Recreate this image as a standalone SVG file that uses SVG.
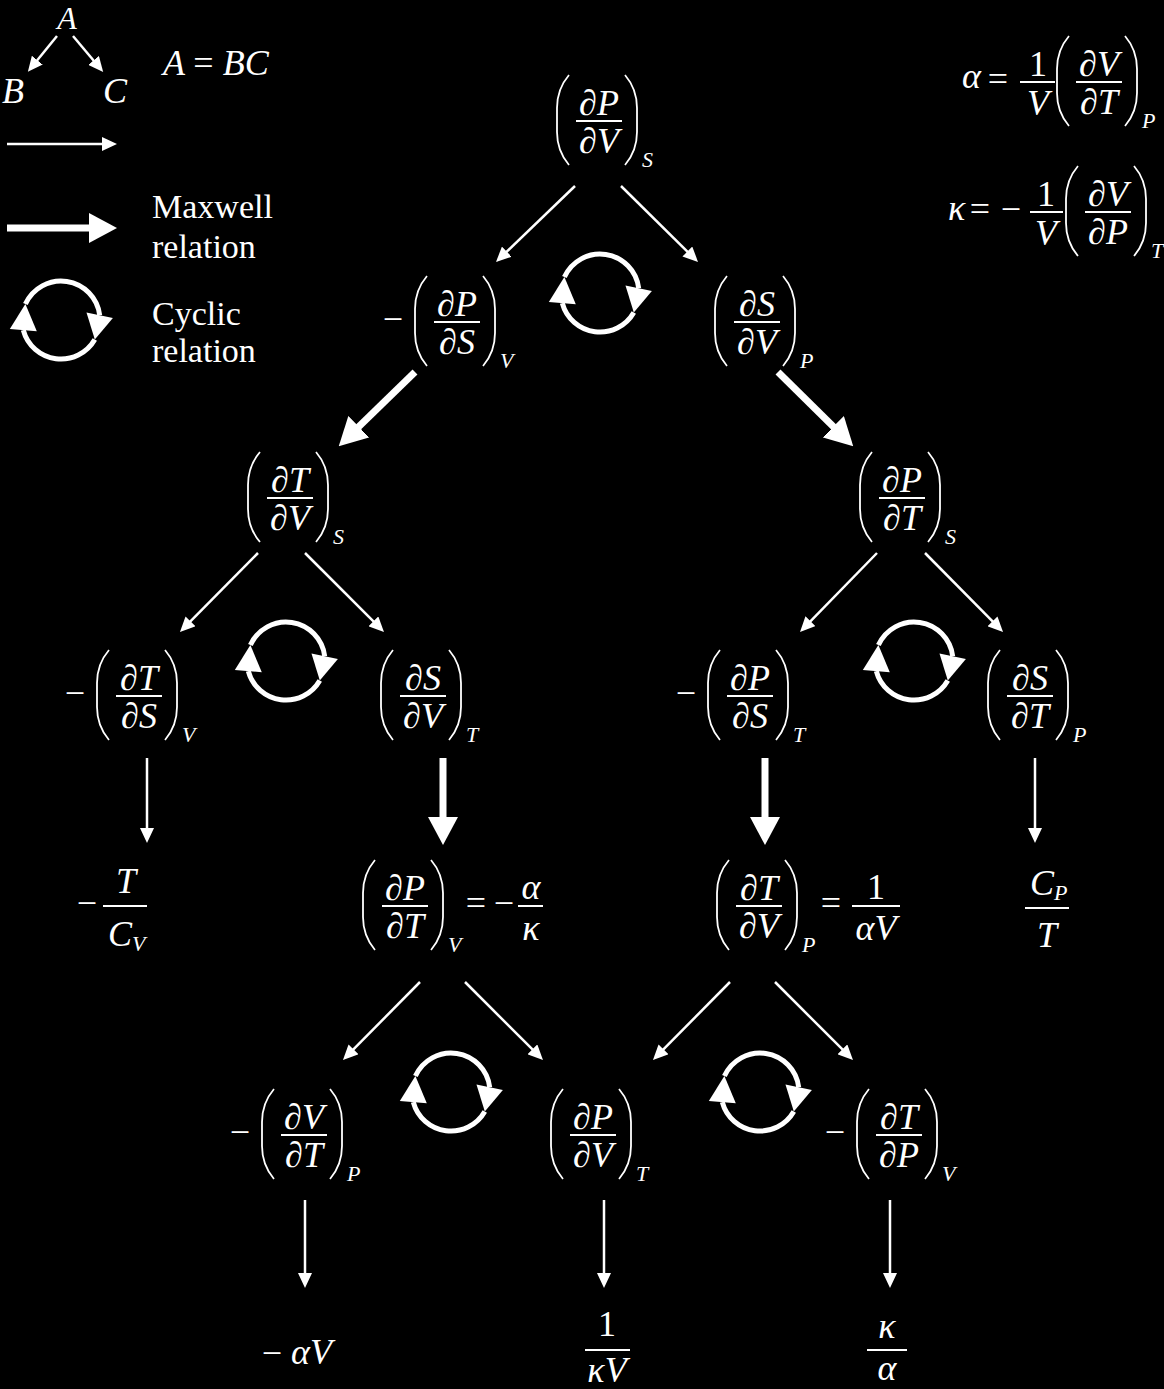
<svg xmlns="http://www.w3.org/2000/svg" width="1164" height="1389" viewBox="0 0 1164 1389">
<style>
.m{font-family:"Liberation Serif","Times New Roman",serif;font-size:36px;font-style:italic;fill:#fff}
.u{font-style:normal}
.s{font-size:22px}
.c{text-anchor:middle}
.t{font-family:"Liberation Serif","Times New Roman",serif;font-size:34px;fill:#fff}
.p{fill:none;stroke:#fff;stroke-width:1.8}
.fl{stroke:#fff;stroke-width:2}
.a{stroke:#fff;stroke-width:2.5;marker-end:url(#ah)}
.b{stroke:#fff;stroke-width:7;marker-end:url(#bh)}
.cy{fill:none;stroke:#fff;stroke-width:5}
</style>
<defs>
<marker id="ah" markerUnits="userSpaceOnUse" markerWidth="15" markerHeight="14" viewBox="0 0 15 14" refX="4" refY="7" orient="auto"><path d="M0,0L15,7L0,14z" fill="#fff"/></marker>
<marker id="bh" markerUnits="userSpaceOnUse" markerWidth="28" markerHeight="30" viewBox="0 0 28 30" refX="7" refY="15" orient="auto"><path d="M0,0L28,15L0,30z" fill="#fff"/></marker>
<g id="fr">
<path class="p" d="M12,0Q0,14 0,33L0,57Q0,76 12,90"/>
<path class="p" d="M68,0Q80,14 80,33L80,57Q80,76 68,90"/>
<line class="fl" x1="19" y1="46" x2="65" y2="46"/>
</g>
<g id="cyc">
<path class="cy" d="M-35.6,-15.9A39,39 0 0 1 38.7,-4.75"/>
<path class="cy" d="M33.8,19.5A39,39 0 0 1 -37.7,10.1"/>
<polygon points="-35.6,-15.9 -51.2,9 -24.2,11.2" fill="#fff"/>
<polygon points="33.8,19.5 51.9,-2.1 25.5,-7.4" fill="#fff"/>
</g>
</defs>
<rect width="1164" height="1389" fill="#000"/>

<g id="legend">
<text class="m c" x="67" y="29" style="font-size:32px">A</text>
<text class="m" x="2" y="103">B</text>
<text class="m" x="103" y="103">C</text>
<text class="m" x="163" y="75">A <tspan class="u">=</tspan> BC</text>
<line class="a" x1="57" y1="36" x2="34.8" y2="63.3"/>
<line class="a" x1="73" y1="36" x2="96.1" y2="63.5"/>
<line class="a" x1="7" y1="144" x2="106" y2="144"/>
<line class="b" x1="7" y1="228" x2="96" y2="228"/>
<text class="t" x="152" y="218">Maxwell</text>
<text class="t" x="152" y="258">relation</text>
<use href="#cyc" transform="translate(61,320)"/>
<text class="t" x="152" y="325">Cyclic</text>
<text class="t" x="152" y="362">relation</text>
</g>

<g id="def-alpha">
<text class="m" x="962" y="88">α</text>
<text class="m u c" x="998" y="91">=</text>
<line class="fl" x1="1020" y1="82" x2="1055" y2="82"/>
<text class="m u c" x="1038" y="76">1</text>
<text class="m c" x="1038" y="115">V</text>
<g transform="translate(1057,36)"><use href="#fr"/><text class="m c" x="42" y="40"><tspan class="u">∂</tspan>V</text><text class="m c" x="42" y="78"><tspan class="u">∂</tspan>T</text><text class="m s" x="85" y="92">P</text></g>
</g>
<g id="def-kappa">
<text class="m" x="948" y="220">κ</text>
<text class="m u c" x="980" y="221">=</text>
<text class="m u c" x="1011" y="221">−</text>
<line class="fl" x1="1030" y1="212" x2="1063" y2="212"/>
<text class="m u c" x="1046" y="206">1</text>
<text class="m c" x="1046" y="245">V</text>
<g transform="translate(1066,166)"><use href="#fr"/><text class="m c" x="42" y="40"><tspan class="u">∂</tspan>V</text><text class="m c" x="42" y="78"><tspan class="u">∂</tspan>P</text><text class="m s" x="85" y="92">T</text></g>
</g>

<g id="n-dPdV-S" transform="translate(557,75)"><use href="#fr"/><text class="m c" x="42" y="40"><tspan class="u">∂</tspan>P</text><text class="m c" x="42" y="78"><tspan class="u">∂</tspan>V</text><text class="m s" x="85" y="92">S</text></g>
<g id="n-dPdS-V" transform="translate(415,276)"><text class="m u c" x="-22" y="55">−</text><use href="#fr"/><text class="m c" x="42" y="40"><tspan class="u">∂</tspan>P</text><text class="m c" x="42" y="78"><tspan class="u">∂</tspan>S</text><text class="m s" x="85" y="92">V</text></g>
<g id="n-dSdV-P" transform="translate(715,276)"><use href="#fr"/><text class="m c" x="42" y="40"><tspan class="u">∂</tspan>S</text><text class="m c" x="42" y="78"><tspan class="u">∂</tspan>V</text><text class="m s" x="85" y="92">P</text></g>
<g id="n-dTdV-S" transform="translate(248,452)"><use href="#fr"/><text class="m c" x="42" y="40"><tspan class="u">∂</tspan>T</text><text class="m c" x="42" y="78"><tspan class="u">∂</tspan>V</text><text class="m s" x="85" y="92">S</text></g>
<g id="n-dPdT-S" transform="translate(860,452)"><use href="#fr"/><text class="m c" x="42" y="40"><tspan class="u">∂</tspan>P</text><text class="m c" x="42" y="78"><tspan class="u">∂</tspan>T</text><text class="m s" x="85" y="92">S</text></g>
<g id="n-dTdS-V" transform="translate(97,650)"><text class="m u c" x="-22" y="55">−</text><use href="#fr"/><text class="m c" x="42" y="40"><tspan class="u">∂</tspan>T</text><text class="m c" x="42" y="78"><tspan class="u">∂</tspan>S</text><text class="m s" x="85" y="92">V</text></g>
<g id="n-dSdV-T" transform="translate(381,650)"><use href="#fr"/><text class="m c" x="42" y="40"><tspan class="u">∂</tspan>S</text><text class="m c" x="42" y="78"><tspan class="u">∂</tspan>V</text><text class="m s" x="85" y="92">T</text></g>
<g id="n-dPdS-T" transform="translate(708,650)"><text class="m u c" x="-22" y="55">−</text><use href="#fr"/><text class="m c" x="42" y="40"><tspan class="u">∂</tspan>P</text><text class="m c" x="42" y="78"><tspan class="u">∂</tspan>S</text><text class="m s" x="85" y="92">T</text></g>
<g id="n-dSdT-P" transform="translate(988,650)"><use href="#fr"/><text class="m c" x="42" y="40"><tspan class="u">∂</tspan>S</text><text class="m c" x="42" y="78"><tspan class="u">∂</tspan>T</text><text class="m s" x="85" y="92">P</text></g>

<g id="n-T-Cv">
<text class="m u c" x="87" y="915">−</text>
<line class="fl" x1="103" y1="906" x2="147" y2="906"/>
<text class="m c" x="126" y="893">T</text>
<text class="m" x="108" y="946">C</text><text class="m s" x="132" y="951">V</text>
</g>
<g id="n-dPdT-V" transform="translate(363,860)"><use href="#fr"/><text class="m c" x="42" y="40"><tspan class="u">∂</tspan>P</text><text class="m c" x="42" y="78"><tspan class="u">∂</tspan>T</text><text class="m s" x="85" y="92">V</text>
<text class="m u c" x="113" y="55">=</text><text class="m u c" x="141" y="55">−</text>
<line class="fl" x1="155" y1="46" x2="180" y2="46"/>
<text class="m c" x="168" y="39">α</text><text class="m c" x="168" y="80">κ</text></g>
<g id="n-dTdV-P" transform="translate(717,860)"><use href="#fr"/><text class="m c" x="42" y="40"><tspan class="u">∂</tspan>T</text><text class="m c" x="42" y="78"><tspan class="u">∂</tspan>V</text><text class="m s" x="85" y="92">P</text>
<text class="m u c" x="114" y="55">=</text>
<line class="fl" x1="135" y1="46" x2="183" y2="46"/>
<text class="m u c" x="159" y="39">1</text><text class="m c" x="159" y="80">αV</text></g>
<g id="n-Cp-T">
<text class="m" x="1030" y="895">C</text><text class="m s" x="1054" y="900">P</text>
<line class="fl" x1="1025" y1="908" x2="1069" y2="908"/>
<text class="m c" x="1047" y="947">T</text>
</g>

<g id="n-dVdT-P" transform="translate(262,1089)"><text class="m u c" x="-22" y="55">−</text><use href="#fr"/><text class="m c" x="42" y="40"><tspan class="u">∂</tspan>V</text><text class="m c" x="42" y="78"><tspan class="u">∂</tspan>T</text><text class="m s" x="85" y="92">P</text></g>
<g id="n-dPdV-T" transform="translate(551,1089)"><use href="#fr"/><text class="m c" x="42" y="40"><tspan class="u">∂</tspan>P</text><text class="m c" x="42" y="78"><tspan class="u">∂</tspan>V</text><text class="m s" x="85" y="92">T</text></g>
<g id="n-dTdP-V" transform="translate(857,1089)"><text class="m u c" x="-22" y="55">−</text><use href="#fr"/><text class="m c" x="42" y="40"><tspan class="u">∂</tspan>T</text><text class="m c" x="42" y="78"><tspan class="u">∂</tspan>P</text><text class="m s" x="85" y="92">V</text></g>

<g id="n-aV">
<text class="m u c" x="272" y="1365">−</text>
<text class="m" x="291" y="1364">αV</text>
</g>
<g id="n-1-kV">
<text class="m u c" x="607" y="1336">1</text>
<line class="fl" x1="585" y1="1350" x2="630" y2="1350"/>
<text class="m c" x="607" y="1382">κV</text>
</g>
<g id="n-k-a">
<text class="m c" x="887" y="1338">κ</text>
<line class="fl" x1="867" y1="1350" x2="907" y2="1350"/>
<text class="m c" x="887" y="1380">α</text>
</g>

<g id="cycles">
<use href="#cyc" transform="translate(600,293)"/>
<use href="#cyc" transform="translate(286,661)"/>
<use href="#cyc" transform="translate(914,661)"/>
<use href="#cyc" transform="translate(451,1092)"/>
<use href="#cyc" transform="translate(760,1092)"/>
</g>

<g id="connectors">
<line class="a" x1="575" y1="186" x2="503.9" y2="254.4"/>
<line class="a" x1="621" y1="186" x2="690.2" y2="254.3"/>
<line class="b" x1="415" y1="372" x2="353.8" y2="431.6"/>
<line class="b" x1="778" y1="372" x2="838.3" y2="431.6"/>
<line class="a" x1="258" y1="553" x2="187.7" y2="624.2"/>
<line class="a" x1="305" y1="553" x2="376.2" y2="624.2"/>
<line class="a" x1="877" y1="553" x2="807.7" y2="624.1"/>
<line class="a" x1="925" y1="553" x2="995.3" y2="624.2"/>
<line class="a" x1="147" y1="758" x2="147" y2="832"/>
<line class="b" x1="443" y1="758" x2="443" y2="824"/>
<line class="b" x1="765" y1="758" x2="765" y2="824"/>
<line class="a" x1="1035" y1="758" x2="1035" y2="832"/>
<line class="a" x1="420" y1="982" x2="350.7" y2="1052.2"/>
<line class="a" x1="465" y1="982" x2="535.2" y2="1052.2"/>
<line class="a" x1="730" y1="982" x2="660.7" y2="1052.2"/>
<line class="a" x1="775" y1="982" x2="845.2" y2="1052.2"/>
<line class="a" x1="305" y1="1200" x2="305" y2="1277"/>
<line class="a" x1="604" y1="1200" x2="604" y2="1277"/>
<line class="a" x1="890" y1="1200" x2="890" y2="1277"/>
</g>
</svg>
